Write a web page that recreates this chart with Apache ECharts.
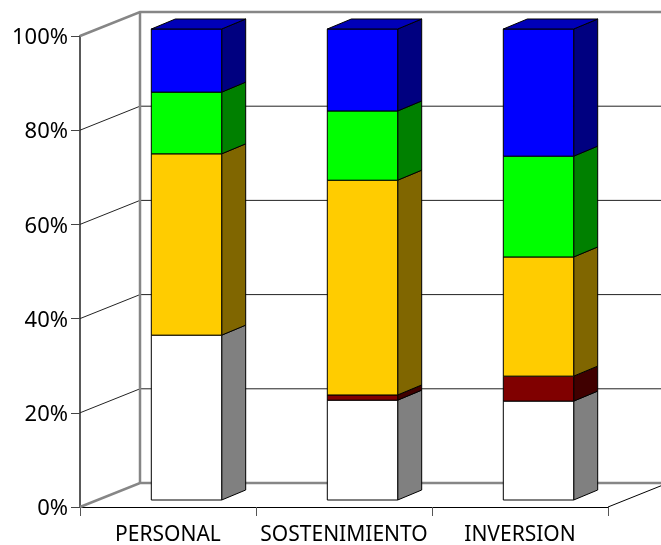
<!DOCTYPE html>
<html><head><meta charset="utf-8">
<style>html,body{margin:0;padding:0;background:#fff}#c{width:661px;height:545px}</style>
<script src="https://cdn.jsdelivr.net/npm/echarts@6/dist/echarts.min.js"></script>
</head><body><div id="c"></div>
<script>
const categories = ['PERSONAL','SOSTENIMIENTO','INVERSION'];
const tickValues = [20,40,60,80];
const whiteVals  = [35.0,21.2,21.0];
const redVals    = [0,1.1,5.3];
const yellowVals = [38.5,45.6,25.3];
const greenVals  = [13.1,14.7,21.4];
const blueVals   = [13.4,17.4,27.0];

const stacks = [
  {name:'A',vals:whiteVals, front:'#ffffff',side:'#808080'},
  {name:'B',vals:redVals,   front:'#800000',side:'#400000'},
  {name:'C',vals:yellowVals,front:'#ffcc00',side:'#806600'},
  {name:'D',vals:greenVals, front:'#00ff00',side:'#008000'},
  {name:'E',vals:blueVals,  front:'#0000ff',side:'#000080',top:'#0000b8'}
];
const WALL_DX=60, WALL_DY=-24, BAR_DX=18.5, BAR_DY=-7, DEPTH_DX=24, DEPTH_DY=-10, BAR_FRAC=0.4;
const cum=[0,0,0];
const barSeries=stacks.map(s=>{
  const data=s.vals.map((v,i)=>{const a=cum[i];cum[i]+=v;return [i,a,cum[i]];});
  return {type:'custom',name:s.name,z:5,silent:true,data,
    encode:{x:0,y:[1,2]},
    renderItem(params,api){
      const i=api.value(0),lo=api.value(1),hi=api.value(2);
      if(hi-lo<=0) return null;
      const p0=api.coord([i,lo]),p1=api.coord([i,hi]);
      const w=api.size([1,0])[0]*BAR_FRAC;
      const xl=p0[0]-w/2+BAR_DX,xr=p0[0]+w/2+BAR_DX,yb=p0[1]+BAR_DY,yt=p1[1]+BAR_DY;
      const ln={stroke:'#000',lineWidth:1};
      const ch=[
        {type:'polygon',shape:{points:[[xr,yb],[xr+DEPTH_DX,yb+DEPTH_DY],[xr+DEPTH_DX,yt+DEPTH_DY],[xr,yt]]},style:{fill:s.side,...ln}},
        {type:'polygon',shape:{points:[[xl,yb],[xr,yb],[xr,yt],[xl,yt]]},style:{fill:s.front,...ln}}
      ];
      if(s.top) ch.push({type:'polygon',shape:{points:[[xl,yt],[xr,yt],[xr+DEPTH_DX,yt+DEPTH_DY],[xl+DEPTH_DX,yt+DEPTH_DY]]},style:{fill:s.top,...ln}});
      return {type:'group',children:ch};
    }};
});
const wallSeries={type:'custom',z:1,silent:true,data:[[0,0]],encode:{x:0,y:1},
  renderItem(params,api){
    const w=api.size([1,0])[0];
    const xL=api.coord([0,0])[0]-w/2, xR=api.coord([2,0])[0]+w/2;
    const y0=api.coord([0,0])[1], y100=api.coord([0,100])[1];
    const gray={stroke:'#868686',lineWidth:2.5,fill:'none'};
    const ch=[];
    tickValues.forEach(t=>{
      const y=api.coord([0,t])[1];
      ch.push({type:'polyline',shape:{points:[[xL,y],[xL+WALL_DX,y+WALL_DY],[xR+WALL_DX,y+WALL_DY]]},style:{stroke:'#222',lineWidth:1,fill:'none'}});
    });
    ch.push({type:'polyline',shape:{points:[[xL,y0],[xL+WALL_DX,y0+WALL_DY],[xR+WALL_DX,y0+WALL_DY]]},style:gray});
    ch.push({type:'polyline',shape:{points:[[xL,y100],[xL+WALL_DX,y100+WALL_DY],[xR+WALL_DX,y100+WALL_DY]]},style:gray});
    ch.push({type:'line',shape:{x1:xL+WALL_DX,y1:y0+WALL_DY,x2:xL+WALL_DX,y2:y100+WALL_DY},style:gray});
    ch.push({type:'line',shape:{x1:xR,y1:y0,x2:xR+WALL_DX,y2:y0+WALL_DY},style:{stroke:'#000',lineWidth:1}});
    return {type:'group',children:ch};
  }};
const font={fontFamily:'"Noto Sans"',color:'#000'};
const chart=echarts.init(document.getElementById('c'),null,{renderer:'canvas'});
chart.setOption({
  animation:false,
  grid:{left:80,right:53,top:36,bottom:38,outerBoundsMode:'none'},
  xAxis:{type:'category',data:categories,boundaryGap:true,
    axisLine:{show:true,lineStyle:{color:'#000',width:1}},
    axisTick:{show:true,alignWithLabel:false,length:9,lineStyle:{color:'#555',width:1}},
    axisLabel:{...font,fontSize:21,margin:18,interval:0,hideOverlap:false},splitLine:{show:false}},
  yAxis:{type:'value',min:0,max:100,interval:20,
    axisLine:{show:true,lineStyle:{color:'#595959',width:2}},
    axisTick:{show:true,length:9,lineStyle:{color:'#444',width:1}},
    axisLabel:{...font,fontSize:22,formatter:'{value}%',margin:12,verticalAlign:'top',lineHeight:4},splitLine:{show:false}},
  series:[wallSeries,...barSeries]
});
</script></body></html>
